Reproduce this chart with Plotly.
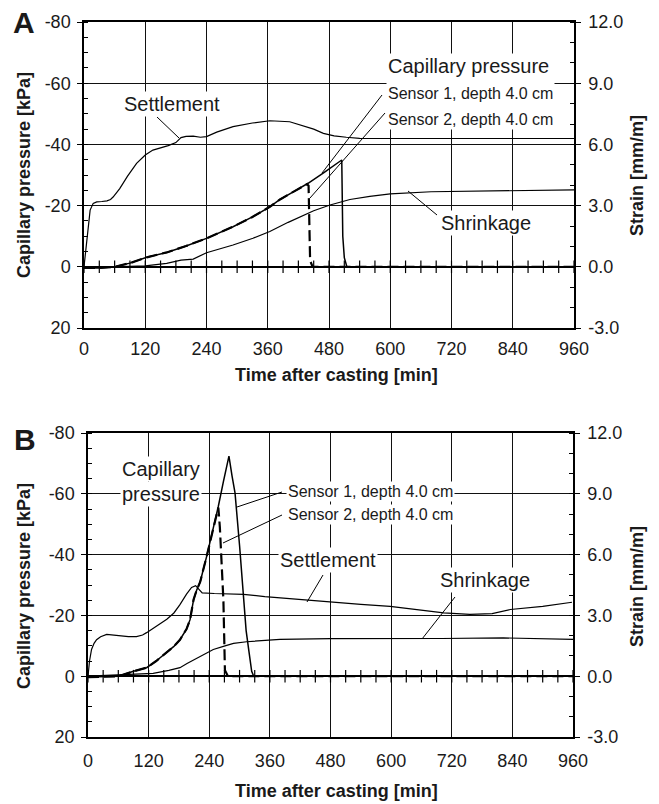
import plotly.graph_objects as go

# ---------------- data ----------------
# Panel A
A_settle_t = [0, 4, 8, 12, 18, 25, 35, 45, 52, 57, 70, 85, 103, 120, 135, 150, 165, 180, 190, 200,
              214, 228, 240, 260, 292, 330, 364, 403, 423, 450, 469, 490, 514, 540, 600, 720, 840, 960]
A_settle = [0, 0.9, 2.1, 2.78, 3.11, 3.18, 3.2, 3.23, 3.3, 3.42, 3.83, 4.43, 5.07, 5.48, 5.72, 5.82, 5.94, 6.09, 6.33, 6.39,
            6.41, 6.35, 6.38, 6.6, 6.87, 7.05, 7.16, 7.11, 6.95, 6.75, 6.54, 6.42, 6.35, 6.3, 6.29, 6.29, 6.29, 6.29]
A_shrink_t = [0, 60, 120, 162, 190, 214, 240, 265, 292, 331, 364, 400, 423, 450, 482, 521, 560, 600, 680, 800, 960]
A_shrink = [0, 0, 0.05, 0.17, 0.33, 0.38, 0.69, 0.87, 1.07, 1.4, 1.73, 2.18, 2.46, 2.75, 3.03, 3.3, 3.45, 3.57, 3.68, 3.72, 3.77]
A_s1_t = [0, 30, 60, 90, 123, 162, 200, 240, 292, 330, 364, 384, 410, 439, 470, 505, 507, 510, 515, 525, 960]
A_s1 = [0.4, 0.4, 0, -1.2, -3.1, -4.7, -6.8, -9.3, -13.1, -16.3, -19.6, -22, -24.5, -27.3, -30.8, -34.9, -10, -3, 0, 0, 0]
A_s2_t = [0, 30, 60, 90, 123, 162, 200, 240, 292, 330, 364, 384, 410, 437, 440, 443, 448, 960]
A_s2 = [0.4, 0.4, 0, -1.2, -3.1, -4.7, -6.8, -9.3, -13.1, -16.3, -19.6, -22, -24.5, -27, -26.5, -2, 0, 0]

# Panel B
B_settle_t = [0, 3, 7, 12, 17, 25, 37, 50, 63, 80, 96, 108, 116, 130, 145, 156, 170, 182, 195, 205,
              213, 220, 226, 250, 280, 308, 350, 400, 433, 492, 540, 598, 650, 704, 756, 800, 836, 900, 958]
B_settle = [0, 0.75, 1.32, 1.62, 1.8, 1.95, 2.06, 2.03, 1.98, 1.95, 1.95, 2.03, 2.15, 2.37, 2.63, 2.81, 3.12, 3.53, 4.05, 4.38,
            4.47, 4.28, 4.11, 4.08, 4.05, 4.04, 3.93, 3.83, 3.75, 3.62, 3.54, 3.45, 3.3, 3.12, 3.05, 3.09, 3.29, 3.45, 3.65]
B_shrink_t = [0, 60, 100, 129, 160, 182, 196, 222, 248, 268, 288, 314, 340, 380, 480, 600, 700, 822, 960]
B_shrink = [0, 0.05, 0.09, 0.14, 0.29, 0.42, 0.63, 0.96, 1.32, 1.47, 1.62, 1.7, 1.76, 1.82, 1.85, 1.85, 1.86, 1.89, 1.82]
B_s1_t = [0, 30, 60, 90, 116, 135, 156, 170, 182, 195, 202, 209, 215, 222, 235, 246, 258, 268, 279, 285,
          291, 300, 308, 313, 318, 324, 328, 340, 960]
B_s1 = [0.3, 0.2, 0, -1.6, -2.8, -5, -7.7, -9.8, -12, -15.5, -18.6, -25.2, -28.3, -31, -39.5, -47, -55.9, -64, -72.4, -66,
        -60.3, -43, -25.2, -15, -8.8, -1.6, 0, 0, 0]
B_s2_t = [0, 30, 60, 90, 116, 135, 156, 170, 182, 195, 202, 209, 215, 222, 235, 246, 258, 261, 268, 271, 277, 960]
B_s2 = [0.3, 0.2, 0, -1.6, -2.8, -5, -7.7, -9.8, -12, -15.5, -18.6, -25.2, -28.3, -31, -39.5, -47, -55.5, -49, -25, -2, 0, 0]

# axes ticks
x_ticks = [0, 120, 240, 360, 480, 600, 720, 840, 960]
zero_line_ticks = list(range(0, 961, 30))
p_ticks = [20, 0, -20, -40, -60, -80]
p_labels = ["20", "0", "-20", "-40", "-60", "-80"]
s_ticks = [-3, 0, 3, 6, 9, 12]
s_labels = ["-3.0", "0.0", "3.0", "6.0", "9.0", "12.0"]

# ---------------- layout helpers ----------------
W, H = 659, 804
FONT = "Liberation Sans, Arial, sans-serif"
TXT = "#1a1a1a"
GRID = "#111111"


def px(x):
    return x / W


def py(y):
    return 1 - y / H


A_xdom = [px(84), px(574)]
A_ydom = [py(328), py(22)]
B_xdom = [px(88), px(573)]
B_ydom = [py(737), py(433)]

fig = go.Figure()


def add_panel(xa, yl, yr, st, s, sht, sh, s1t, s1, s2t, s2):
    line_thin = dict(color="black", width=1.2)
    fig.add_trace(go.Scatter(x=st, y=s, xaxis=xa, yaxis=yr, mode="lines", line=line_thin,
                             showlegend=False, hoverinfo="skip"))
    fig.add_trace(go.Scatter(x=sht, y=sh, xaxis=xa, yaxis=yr, mode="lines", line=line_thin,
                             showlegend=False, hoverinfo="skip"))
    fig.add_trace(go.Scatter(x=s2t, y=s2, xaxis=xa, yaxis=yl, mode="lines",
                             line=dict(color="black", width=2.2, dash="11px,5px"),
                             showlegend=False, hoverinfo="skip"))
    fig.add_trace(go.Scatter(x=s1t, y=s1, xaxis=xa, yaxis=yl, mode="lines",
                             line=dict(color="black", width=1.5),
                             showlegend=False, hoverinfo="skip"))
    fig.add_trace(go.Scatter(x=zero_line_ticks, y=[0] * len(zero_line_ticks), xaxis=xa, yaxis=yl,
                             mode="markers",
                             marker=dict(symbol="line-ns", size=9, color="black",
                                         line=dict(width=1.2, color="black")),
                             showlegend=False, hoverinfo="skip"))


add_panel("x", "y", "y2", A_settle_t, A_settle, A_shrink_t, A_shrink, A_s1_t, A_s1, A_s2_t, A_s2)
add_panel("x2", "y3", "y4", B_settle_t, B_settle, B_shrink_t, B_shrink, B_s1_t, B_s1, B_s2_t, B_s2)

tickfont = dict(family=FONT, size=18, color=TXT)


def xaxis(dom, anchor, standoff):
    return dict(domain=dom, anchor=anchor, range=[0, 960], tickmode="array", tickvals=x_ticks,
                ticktext=[str(v) for v in x_ticks], ticks="", showgrid=True, gridcolor=GRID,
                gridwidth=1, showline=True, linecolor="black", linewidth=1.5, mirror=True,
                zeroline=False, tickfont=tickfont, ticklabelstandoff=standoff, automargin=False)


def yleft(dom, anchor):
    return dict(domain=dom, anchor=anchor, range=[20, -80], tickmode="array", tickvals=p_ticks,
                ticktext=p_labels, ticks="outside", ticklen=5, tickcolor="black", tickwidth=1.2,
                minor=dict(ticks="inside", tickmode="linear", tick0=0, dtick=5, ticklen=4,
                           tickcolor="black", tickwidth=1, showgrid=False),
                showgrid=True, gridcolor=GRID, gridwidth=1, zeroline=True, zerolinecolor="black",
                zerolinewidth=2.2, showline=True, linecolor="black", linewidth=1.5,
                tickfont=tickfont, ticklabelstandoff=3, automargin=False)


def yright(over, anchor):
    return dict(overlaying=over, anchor=anchor, side="right", range=[-3, 12], tickmode="array",
                tickvals=s_ticks, ticktext=s_labels, ticks="outside", ticklen=5, tickcolor="black",
                tickwidth=1.2,
                minor=dict(ticks="inside", tickmode="linear", tick0=0, dtick=1, ticklen=4,
                           tickcolor="black", tickwidth=1, showgrid=False),
                showgrid=False, zeroline=False, showline=True, linecolor="black", linewidth=1.5,
                tickfont=tickfont, ticklabelstandoff=4, automargin=False)


fig.update_layout(
    width=W, height=H, autosize=False,
    margin=dict(l=0, r=0, t=0, b=0, pad=0, autoexpand=False),
    paper_bgcolor="white", plot_bgcolor="white",
    font=dict(family=FONT, color=TXT),
    showlegend=False,
    xaxis=xaxis(A_xdom, "y", 4),
    yaxis=yleft(A_ydom, "x"),
    yaxis2=yright("y", "x"),
    xaxis2=xaxis(B_xdom, "y3", 7),
    yaxis3=yleft(B_ydom, "x2"),
    yaxis4=yright("y3", "x2"),
)

ann = []


def label(text, x, y, size, xanchor="center", yanchor="middle", bg="white", angle=0, align="center"):
    ann.append(dict(text=text, x=px(x), y=py(y), xref="paper", yref="paper", showarrow=False,
                    xanchor=xanchor, yanchor=yanchor, font=dict(family=FONT, size=size, color=TXT),
                    bgcolor=bg, borderpad=1, textangle=angle, align=align))


# panel letters
label("<b>A</b>", 24, 23, 30, bg=None)
label("<b>B</b>", 25, 439, 30, bg=None)
# axis titles
for cy, ty in ((175, 375), (586, 791)):
    label("<b>Capillary pressure [kPa]</b>", 24, cy, 18, bg=None, angle=-90)
    label("<b>Strain [mm/m]</b>", 637, cy + 1, 18, bg=None, angle=-90)
    label("<b>Time after casting [min]</b>", 336, ty, 18, bg=None)

# Panel A labels
label("Settlement", 172, 104, 20)
label("Capillary pressure<br><span style='font-size:16px'>Sensor 1, depth 4.0 cm</span>"
      "<br><span style='font-size:16px'>Sensor 2, depth 4.0 cm</span>",
      386, 91, 20, xanchor="left", align="left")
label("Shrinkage", 486, 223, 20)

# Panel B labels
label("pressure", 161, 494, 20)
label("Capillary", 161, 469, 20)
label("Sensor 1, depth 4.0 cm", 286, 491, 16, xanchor="left")
label("Sensor 2, depth 4.0 cm", 286, 514, 16, xanchor="left")
label("Settlement", 328, 560, 20)
label("Shrinkage", 485, 580, 20)

leaders = [
    (157, 117, 179, 138),
    (382, 95, 322, 173),
    (385, 113, 310, 198),
    (437, 215, 408, 191),
    (282, 492, 237, 507),
    (282, 515, 223, 543),
    (323, 575, 307, 602),
    (455, 597, 422, 639),
]
shapes = [dict(type="line", xref="paper", yref="paper", x0=px(a), y0=py(b), x1=px(c), y1=py(d),
               line=dict(color="black", width=1)) for a, b, c, d in leaders]

fig.update_layout(annotations=ann, shapes=shapes)
fig.write_html("out.html", config={"displayModeBar": False},
               post_script="document.body.style.margin='0';")
